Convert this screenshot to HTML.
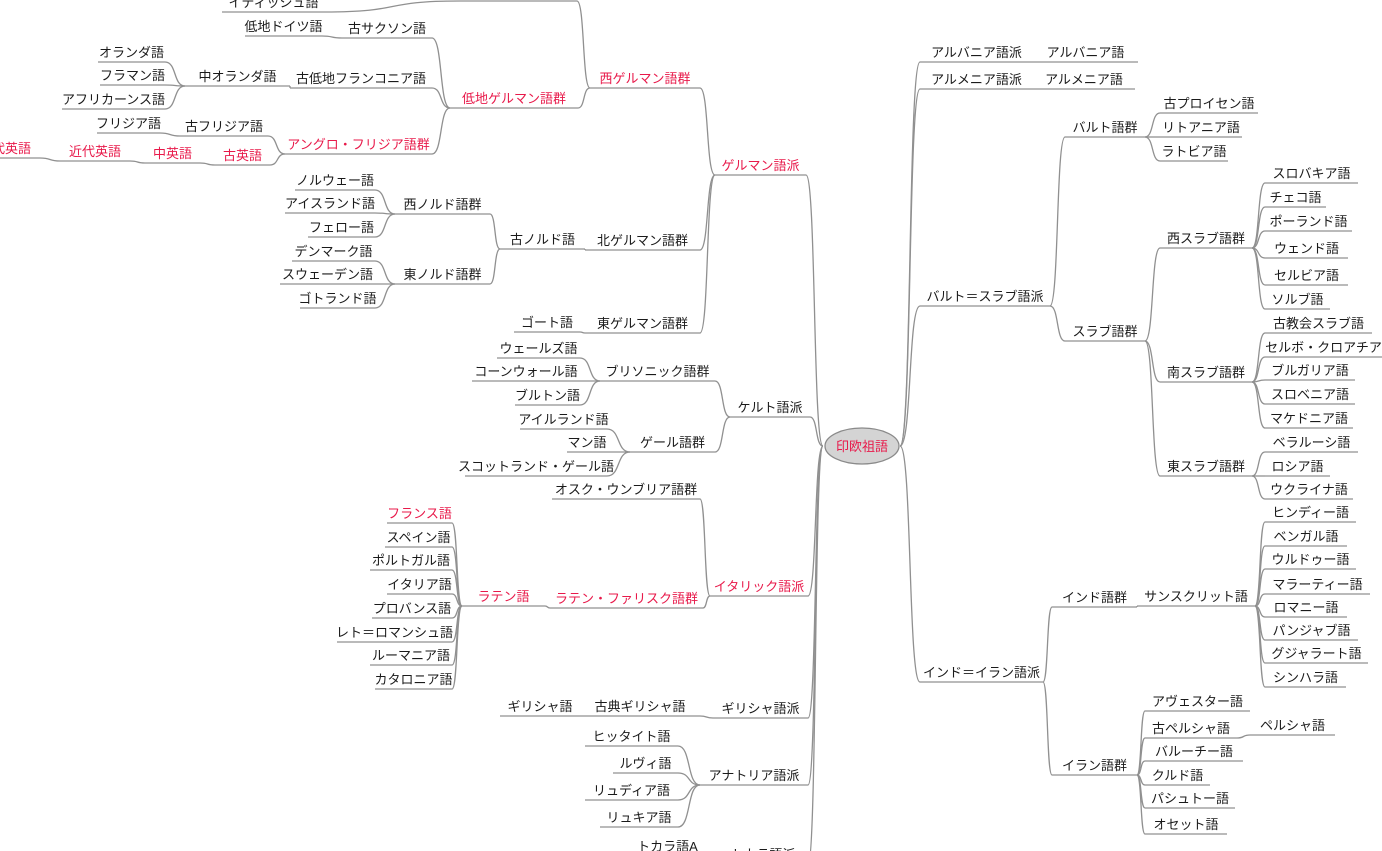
<!DOCTYPE html>
<html><head><meta charset="utf-8">
<style>
html,body{margin:0;padding:0;background:#fff;}
svg{display:block;}
text{font-family:"Liberation Sans","Noto Sans CJK JP",sans-serif;font-size:13px;fill:#1a1a1a;}
text.r{fill:#e8194a;}
</style></head><body>
<svg id="s" width="1382" height="851" viewBox="0 0 1382 851" xmlns="http://www.w3.org/2000/svg">
<g id="L" fill="none" stroke="#909090" stroke-width="1.3"></g>
<g id="T"></g>
<ellipse cx="862" cy="446" rx="37" ry="18" fill="#d4d4d4" stroke="#8a8a8a" stroke-width="1.3"/>
<text x="862" y="451" text-anchor="middle" class="r">印欧祖語</text>
</svg>
<script>
var N=[
["hg","高地ドイツ語",460,577,1,"wg",0],
["yi","イディッシュ語",222,325,12,"hg",0],
["os","古サクソン語",342,432,38,"lg",0],
["ld","低地ドイツ語",245,322,36,"os",0],
["olf","古低地フランコニア語",290,432,88,"lg",0],
["md","中オランダ語",185,290,86,"olf",0],
["nl","オランダ語",98,165,62,"md",0],
["fl","フラマン語",100,165,85,"md",0],
["af","アフリカーンス語",62,165,109,"md",0],
["af2","アングロ・フリジア語群",285,432,154,"lg",1],
["ofr","古フリジア語",180,268,136,"af2",0],
["fr","フリジア語",97,160,133,"ofr",0],
["oe","古英語",215,270,165,"af2",1],
["me","中英語",145,200,163,"oe",1],
["mo","近代英語",60,130,161,"me",1],
["ce","現代英語",-30,40,158,"mo",1],
["lg","低地ゲルマン語群",450,578,108,"wg",1],
["wg","西ゲルマン語群",590,700,88,"ge",1],
["ge","ゲルマン語派",715,806,175,"root",1],
["ng","北ゲルマン語群",585,700,250,"ge",0],
["on","古ノルド語",500,585,249,"ng",0],
["wn","西ノルド語群",395,490,214,"on",0],
["en","東ノルド語群",395,490,284,"on",0],
["no","ノルウェー語",295,375,190,"wn",0],
["is","アイスランド語",285,375,213,"wn",0],
["fo","フェロー語",308,375,237,"wn",0],
["da","デンマーク語",292,375,261,"en",0],
["sv","スウェーデン語",280,375,284,"en",0],
["go","ゴトランド語",300,375,308,"en",0],
["eg","東ゲルマン語群",585,700,333,"ge",0],
["gt","ゴート語",514,580,332,"eg",0],
["ce2","ケルト語派",730,810,417,"root",0],
["br","ブリソニック語群",600,715,381,"ce2",0],
["ga","ゲール語群",630,715,452,"ce2",0],
["we","ウェールズ語",497,580,358,"br",0],
["co","コーンウォール語",472,580,381,"br",0],
["bt","ブルトン語",515,580,405,"br",0],
["ir","アイルランド語",520,607,429,"ga",0],
["mn","マン語",567,607,452,"ga",0],
["sg","スコットランド・ゲール語",465,607,476,"ga",0],
["it","イタリック語派",710,808,596,"root",1],
["ou","オスク・ウンブリア語群",552,700,499,"it",0],
["lf","ラテン・ファリスク語群",550,703,608,"it",1],
["la","ラテン語",462,545,606,"lf",1],
["fra","フランス語",387,452,523,"la",1],
["es","スペイン語",385,452,547,"la",0],
["pt","ポルトガル語",370,452,570,"la",0],
["ita","イタリア語",387,452,594,"la",0],
["pr","プロバンス語",372,452,618,"la",0],
["rm","レト＝ロマンシュ語",337,452,642,"la",0],
["ro","ルーマニア語",370,452,665,"la",0],
["ca","カタロニア語",375,452,689,"la",0],
["gr","ギリシャ語派",713,808,718,"root",0],
["cg","古典ギリシャ語",580,700,716,"gr",0],
["g2","ギリシャ語",500,580,716,"cg",0],
["an","アナトリア語派",700,808,785,"root",0],
["hi","ヒッタイト語",585,678,746,"an",0],
["lu","ルヴィ語",613,678,773,"an",0],
["ly","リュディア語",585,678,800,"an",0],
["lk","リュキア語",600,678,827,"an",0],
["to","トカラ語派",718,808,864,"root",0],
["ta","トカラ語A",630,705,856,"to",0],
["alb","アルバニア語派",920,1033,62,"root",0],
["alb2","アルバニア語",1033,1138,62,"alb",0],
["arm","アルメニア語派",920,1033,89,"root",0],
["arm2","アルメニア語",1033,1135,89,"arm",0],
["bs","バルト＝スラブ語派",920,1050,306,"root",0],
["ba","バルト語群",1065,1145,137,"bs",0],
["op","古プロイセン語",1160,1258,113,"ba",0],
["lt","リトアニア語",1160,1242,137,"ba",0],
["lv","ラトビア語",1160,1228,161,"ba",0],
["sl","スラブ語群",1065,1145,341,"bs",0],
["ws","西スラブ語群",1160,1252,248,"sl",0],
["ss","南スラブ語群",1160,1252,382,"sl",0],
["es2","東スラブ語群",1160,1252,476,"sl",0],
["sk","スロバキア語",1265,1358,183,"ws",0],
["cz","チェコ語",1265,1326,207,"ws",0],
["pl","ポーランド語",1265,1352,231,"ws",0],
["wd","ウェンド語",1265,1348,258,"ws",0],
["sb","セルビア語",1265,1348,285,"ws",0],
["so","ソルブ語",1265,1330,309,"ws",0],
["ocs","古教会スラブ語",1265,1372,333,"ss",0],
["sc","セルボ・クロアチア語",1265,1395,357,"ss",0],
["bg","ブルガリア語",1265,1355,380,"ss",0],
["slv","スロベニア語",1265,1355,404,"ss",0],
["mk","マケドニア語",1265,1353,428,"ss",0],
["be","ベラルーシ語",1265,1358,452,"es2",0],
["ru","ロシア語",1265,1330,476,"es2",0],
["uk","ウクライナ語",1265,1353,499,"es2",0],
["ii","インド＝イラン語派",920,1043,682,"root",0],
["in","インド語群",1052,1137,607,"ii",0],
["sa","サンスクリット語",1137,1255,606,"in",0],
["hd","ヒンディー語",1265,1356,522,"sa",0],
["bn","ベンガル語",1265,1347,546,"sa",0],
["ur","ウルドゥー語",1265,1356,569,"sa",0],
["mr","マラーティー語",1265,1370,594,"sa",0],
["rmy","ロマニー語",1265,1347,617,"sa",0],
["pa","パンジャブ語",1265,1358,640,"sa",0],
["gu","グジャラート語",1265,1368,663,"sa",0],
["si","シンハラ語",1265,1346,687,"sa",0],
["ir2","イラン語群",1052,1137,775,"ii",0],
["av","アヴェスター語",1145,1250,711,"ir2",0],
["ope","古ペルシャ語",1145,1237,738,"ir2",0],
["fa","ペルシャ語",1250,1335,735,"ope",0],
["bl","バルーチー語",1145,1243,761,"ir2",0],
["ku","クルド語",1145,1210,785,"ir2",0],
["ps","パシュトー語",1145,1235,808,"ir2",0],
["os2","オセット語",1145,1227,834,"ir2",0]
];
var M={};N.forEach(function(n){M[n[0]]=n;});
var root={x1:823,x2:900,y:446};
function info(id){if(id=="root")return root;var n=M[id];return {x1:n[2],x2:n[3],y:n[4]};}
var L=document.getElementById("L"),T=document.getElementById("T"),ns="http://www.w3.org/2000/svg";
function P(d){var p=document.createElementNS(ns,"path");p.setAttribute("d",d);L.appendChild(p);}
N.forEach(function(n){
  var x1=n[2],x2=n[3],y=n[4];
  P("M"+x1+" "+y+"H"+x2);
  var t=document.createElementNS(ns,"text");
  t.setAttribute("x",(x1+x2)/2);t.setAttribute("y",y-5);t.setAttribute("text-anchor","middle");
  if(n[6])t.setAttribute("class","r");
  t.textContent=n[1];T.appendChild(t);
  var p=info(n[5]);
  var left = x2<=p.x1+2 || (n[5]=="root"&&x2<850);
  var ax,ay,bx,by;
  if(left){ax=x2;ay=y;bx=p.x1;by=p.y;} else {ax=p.x2;ay=p.y;bx=x1;by=y;}
  var dx=bx-ax;
  P("M"+ax+" "+ay+"C"+(ax+dx*0.6)+" "+ay+","+(ax+dx*0.4)+" "+by+","+bx+" "+by);
});
</script>
</body></html>
